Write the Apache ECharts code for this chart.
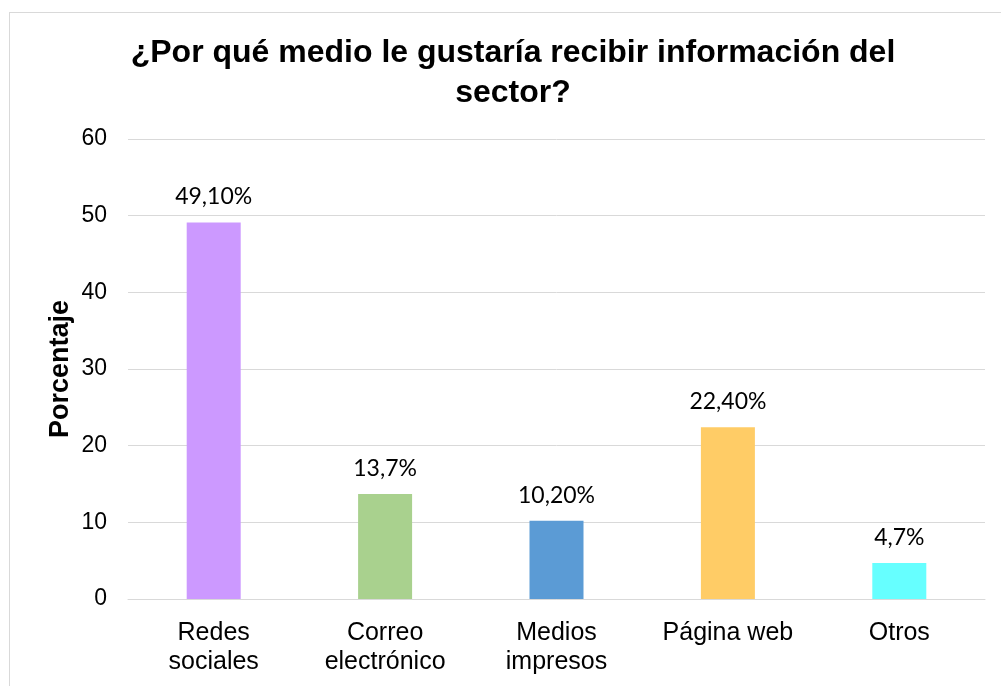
<!DOCTYPE html>
<html>
<head>
    <meta charset="utf-8">
    <title>Medio de información</title>
    <script src="https://cdn.jsdelivr.net/npm/echarts@6/dist/echarts.min.js"></script>
    <style>
        html, body { margin: 0; padding: 0; background: #fff; }
        #frame {
            position: absolute; left: 9px; top: 12px; width: 1000px; height: 700px;
            border-left: 1px solid #d9d9d9; border-top: 1px solid #d9d9d9;
        }
        #main { position: absolute; left: 0; top: 0; width: 1001px; height: 686px; }
    </style>
</head>
<body>
<div id="frame"></div>
<div id="main"></div>
<script type="text/javascript">
    // categorías y valores (porcentaje)
    var categorias = ['Redes\nsociales', 'Correo\nelectrónico', 'Medios\nimpresos', 'Página web', 'Otros'];
    var valores = [49.1, 13.7, 10.2, 22.4, 4.7];
    var etiquetas = ['49,10%', '13,7%', '10,20%', '22,40%', '4,7%'];
    var colores = ['#CC99FF', '#A9D18E', '#5B9BD5', '#FFCC66', '#66FFFF'];

    var myChart = echarts.init(document.getElementById('main'));

    var option = {
        backgroundColor: 'transparent',
        title: {
            text: '¿Por qué medio le gustaría recibir información del\nsector?',
            left: 508,
            top: 28,
            textAlign: 'center',
            textStyle: {
                fontFamily: 'Liberation Sans, Arial',
                fontSize: 32,
                fontWeight: 'bold',
                color: '#000',
                lineHeight: 40
            }
        },
        grid: { left: 128, right: 16, top: 139, bottom: 87 },
        xAxis: {
            type: 'category',
            data: categorias,
            axisLine: { lineStyle: { color: '#d9d9d9', width: 1 } },
            axisTick: { show: false },
            axisLabel: {
                interval: 0,
                hideOverlap: false,
                margin: 20,
                fontFamily: 'Liberation Sans, Arial',
                fontSize: 25,
                lineHeight: 29,
                color: '#000'
            }
        },
        yAxis: {
            type: 'value',
            min: 0,
            max: 60,
            interval: 10,
            name: 'Porcentaje',
            nameLocation: 'middle',
            nameGap: 54,
            nameMoveOverlap: false,
            nameTextStyle: {
                fontFamily: 'Liberation Sans, Arial',
                fontSize: 27,
                fontWeight: 'bold',
                color: '#000'
            },
            axisLine: { show: false },
            axisTick: { show: false },
            splitLine: { lineStyle: { color: '#d9d9d9', width: 1 } },
            axisLabel: {
                margin: 21,
                fontFamily: 'Liberation Sans, Arial',
                fontSize: 23,
                color: '#000'
            }
        },
        series: [{
            type: 'bar',
            barWidth: 54,
            data: valores.map(function (v, i) {
                return { value: v, itemStyle: { color: colores[i] } };
            }),
            label: {
                show: true,
                position: 'top',
                distance: 14,
                fontFamily: 'Lato, Open Sans, sans-serif',
                fontSize: 23,
                color: '#000',
                formatter: function (p) { return etiquetas[p.dataIndex]; }
            }
        }]
    };
    myChart.setOption(option);
</script>
</body>
</html>
